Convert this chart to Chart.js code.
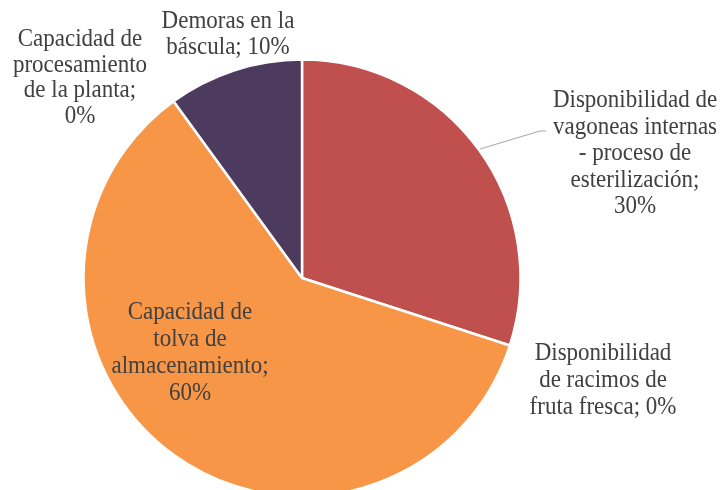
<!DOCTYPE html>
<html>
<head>
<meta charset="utf-8">
<script src="https://cdn.jsdelivr.net/npm/chart.js@4.4.0/dist/chart.umd.min.js"></script>
<style>
  html, body { margin: 0; padding: 0; background: #ffffff; overflow: hidden; }
  #wrap { width: 726px; height: 490px; }
</style>
</head>
<body>
<div id="wrap"><canvas id="chart-pie" width="726" height="490"></canvas></div>
<script>
// categories, clockwise from 12 o'clock
var categories = [
  "Disponibilidad de vagoneas internas - proceso de esterilización",
  "Disponibilidad de racimos de fruta fresca",
  "Capacidad de tolva de almacenamiento",
  "Capacidad de procesamiento de la planta",
  "Demoras en la báscula"
];
var values = [30, 0, 60, 0, 10];
var colors = ["#c0504d", "#c0504d", "#f79646", "#f79646", "#4d3a5f"];

// label layout: words per line, center of first line, line step
var labelLayout = [
  { words: [2, 2, 3, 1, 1], x: 635, y: 101, step: 26.5 },
  { words: [1, 3, 3], x: 603, y: 354, step: 27 },
  { words: [2, 2, 1, 1], x: 190, y: 313, step: 26.7 },
  { words: [2, 1, 3, 1], x: 80, y: 40, step: 25.5 },
  { words: [3, 2], x: 228, y: 22, step: 26 }
];

/**
 * Splits a label into lines using the word counts.
 *
 * @param text
 * @param counts
 */
function splitLines(text, counts) {
  var words = text.split(" ");
  var lines = [];
  var pos = 0;
  counts.forEach(function (n) {
    lines.push(words.slice(pos, pos + n).join(" "));
    pos += n;
  });
  return lines;
}

var labelPlugin = {
  id: "pieLabels",
  afterDatasetsDraw: function (chart) {
    var ctx = chart.ctx;
    ctx.save();

    // leader line for the first slice
    ctx.strokeStyle = "#a6a6a6";
    ctx.lineWidth = 1;
    ctx.beginPath();
    ctx.moveTo(480, 149);
    ctx.lineTo(540, 131);
    ctx.lineTo(546, 131);
    ctx.stroke();

    ctx.fillStyle = "#404040";
    ctx.font = "23px 'Liberation Serif', 'DejaVu Serif', serif";
    ctx.textAlign = "center";
    ctx.textBaseline = "middle";
    categories.forEach(function (name, i) {
      var layout = labelLayout[i];
      var lines = splitLines(name + "; " + values[i] + "%", layout.words);
      lines.forEach(function (line, j) {
        var y = layout.y + j * layout.step;
        // text in the original looks a bit taller than wide
        ctx.save();
        ctx.translate(layout.x, y);
        ctx.scale(1, 1.06);
        ctx.fillText(line, 0, 0);
        ctx.restore();
      });
    });
    ctx.restore();
  }
};

var pieChart = new Chart(document.getElementById("chart-pie"), {
  type: "pie",
  data: {
    labels: categories,
    datasets: [
      {
        data: values,
        backgroundColor: colors,
        borderColor: "#ffffff",
        borderWidth: 2.5,
        radius: 218.5
      }
    ]
  },
  options: {
    responsive: false,
    animation: false,
    layout: {
      padding: { left: 2, right: 124, top: 66, bottom: 0 }
    },
    plugins: {
      legend: { display: false },
      tooltip: { enabled: false }
    }
  },
  plugins: [labelPlugin]
});
</script>
</body>
</html>
